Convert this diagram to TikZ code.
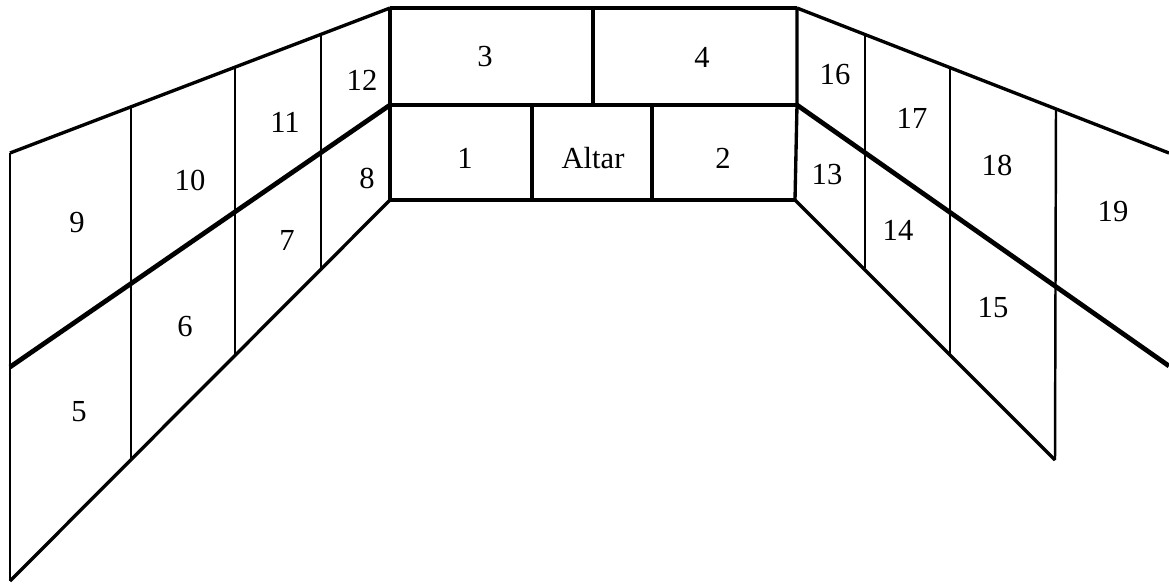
\documentclass[tikz,border=0pt]{standalone}
\usepackage{fontspec}
\setmainfont{Liberation Serif}
\begin{document}
\begin{tikzpicture}[x=0.01cm,y=-0.01cm,
  edge/.style={line width=0.95pt,line join=miter},
  seam/.style={line width=1.35pt},
  post/.style={line width=0.7pt},
  lbl/.style={font=\fontsize{8.7}{10}\selectfont,inner sep=0pt}]
\useasboundingbox (0,0) rectangle (1169,584);
% corners
\coordinate (LT) at (10,153);  \coordinate (LM) at (10,367);  \coordinate (LB) at (10,581);
\coordinate (CLT) at (390,8);  \coordinate (CLM) at (390,105); \coordinate (CLB) at (390,200);
\coordinate (CRT) at (797,8);  \coordinate (CRM) at (797,105); \coordinate (CRB) at (795,200);
\coordinate (RT) at (1169,153); \coordinate (RM) at (1169,366); \coordinate (RB) at (1055,460);
% left wall
\draw[post] (LT) -- (LB);
\draw[edge] (LT) -- (CLT);
\draw[edge] (LB) -- (CLB);
\draw[seam] (LM) -- (CLM);
\draw[post] (131,107) -- (131,460);
\draw[post] (235,67) -- (235,356);
\draw[post] (321,34) -- (321,270);
% centre wall
\draw[edge] (CLT) -- (CRT);
\draw[edge] (CLM) -- (CRM);
\draw[edge] (CLB) -- (CRB);
\draw[edge] (CLT) -- (CLB);
\draw[edge] (CRT) -- (CRM) -- (CRB);
\draw[edge] (593,8) -- (593,105);
\draw[edge] (532,105) -- (532,200);
\draw[edge] (652,105) -- (652,200);
% right wall
\draw[edge] (CRT) -- (RT);
\draw[seam] (CRM) -- (RM);
\draw[edge] (CRB) -- (RB);
\draw[post] (865,35) -- (865,268);
\draw[post] (950,69) -- (950,355);
\draw[post] (1056,110) -- (RB);
% labels
\node[lbl] (n9)  at (77,223) {9};
\node[lbl] (n10) at (190,180) {10};
\node[lbl] (n11) at (285,122) {11};
\node[lbl] (n12) at (362,80) {12};
\node[lbl] (n8)  at (367,178) {8};
\node[lbl] (n7)  at (287,240) {7};
\node[lbl] (n6)  at (185,327) {6};
\node[lbl] (n5)  at (79,412) {5};
\node[lbl] (n3)  at (485,57) {3};
\node[lbl] (n4)  at (702,57) {4};
\node[lbl] (n1)  at (465,158) {1};
\node[lbl] (nA)  at (593,158) {Altar};
\node[lbl] (n2)  at (723,158) {2};
\node[lbl] (n16) at (835,75) {16};
\node[lbl] (n17) at (912,118) {17};
\node[lbl] (n18) at (997,165) {18};
\node[lbl] (n19) at (1113,212) {19};
\node[lbl] (n13) at (827,175) {13};
\node[lbl] (n14) at (898,230) {14};
\node[lbl] (n15) at (993,308) {15};
\end{tikzpicture}
\end{document}
